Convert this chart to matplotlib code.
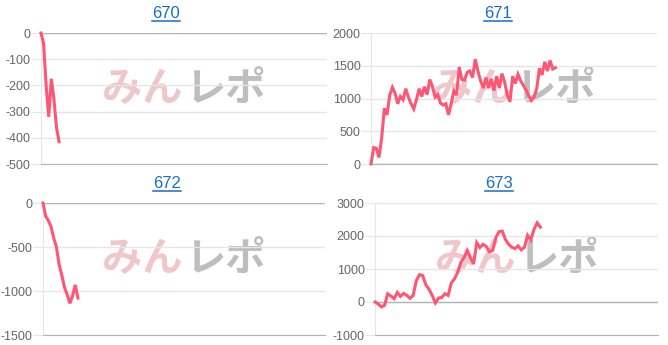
import numpy as np
import matplotlib.pyplot as plt

plt.rcParams['font.family'] = ['Liberation Sans', 'DejaVu Sans']
plt.rcParams['axes.unicode_minus'] = False

# data (difference in coins per data point)
titles = ['670', '671', '672', '673']

vals_670 = [0, -40, -200, -320, -175, -250, -360, -415]

vals_671 = [0, 250, 240, 100, 400, 850, 750, 1050, 1170, 1080, 920, 1030, 980,
            1150, 1020, 920, 840, 980, 1150, 1030, 1180, 1060, 1290, 1180, 1020,
            1060, 930, 900, 920, 750, 920, 1120, 1050, 1480, 1290, 1280, 1400,
            1420, 1320, 1600, 1420, 1270, 1160, 1320, 1160, 1300, 1120, 1340,
            1160, 1380, 1250, 1050, 950, 1340, 1230, 1370, 1270, 1200, 1130,
            1040, 970, 1020, 1150, 1460, 1360, 1560, 1420, 1580, 1450, 1470]

vals_672 = [0, -150, -200, -270, -400, -500, -700, -820, -960, -1040, -1140,
            -1060, -930, -1080]

vals_673 = [0, -60, -150, -100, 250, 180, 100, 290, 170, 260, 200, 110, 200,
            650, 830, 800, 520, 380, 200, -30, 120, 140, 250, 200, 580, 700,
            900, 1200, 1350, 1560, 1350, 1150, 1800, 1650, 1750, 1680, 1520,
            1560, 1950, 2130, 2150, 1900, 1750, 1660, 1620, 1700, 1580, 1660,
            2020, 1880, 2200, 2400, 2270]

series = [vals_670, vals_671, vals_672, vals_673]
y_ticks = [np.arange(-500, 1, 100), np.arange(0, 2001, 500),
           np.arange(-1500, 1, 500), np.arange(-1000, 3001, 1000)]

# layout (pixels in a 668x345 figure)
W, H = 668, 345
boxes = [(41, 327, 33, 164), (371, 657, 33, 164),
         (43, 325, 203, 335), (375, 658, 203, 335)]
title_pos = [(166, 14), (498, 14), (167, 184), (499, 184)]
x_max = [111, 107, 105, 89]

line_color = '#ff5674'
grid_color = '#e6e6e6'
zero_color = '#b4b4b4'
link_color = '#1a6cc8'

fig = plt.figure(figsize=(W / 100, H / 100), dpi=100)
title_texts = []

for i, vals in enumerate(series):
    l, r, t, b = boxes[i]
    ax = fig.add_axes([l / W, 1 - b / H, (r - l) / W, (b - t) / H])
    ticks = y_ticks[i]
    ax.set_ylim(ticks[0], ticks[-1])
    ax.set_xlim(0, x_max[i])
    ax.set_yticks(ticks)
    ax.set_xticks([])
    ax.yaxis.grid(True, color=grid_color, linewidth=1)
    ax.axhline(0, color=zero_color, linewidth=1, zorder=1)
    ax.tick_params(axis='y', length=7, color=grid_color, labelsize=9,
                   labelcolor='#666666', pad=0.5)
    for side in ['top', 'right']:
        ax.spines[side].set_visible(False)
    ax.spines['left'].set_color(grid_color)
    ax.spines['bottom'].set_color(zero_color)
    ax.set_axisbelow(True)

    # watermark
    ax.text(0.495, 0.57, 'みん', transform=ax.transAxes, ha='right', va='center',
            fontsize=29, fontweight='bold', color='#e39a9e', alpha=0.55,
            family=['Noto Sans CJK JP'], zorder=0)
    ax.text(0.505, 0.57, 'レポ', transform=ax.transAxes, ha='left', va='center',
            fontsize=29, fontweight='bold', color='#a8a8a8', alpha=0.75,
            family=['Noto Sans CJK JP'], zorder=0)

    ax.plot(np.arange(len(vals)), vals, color=line_color, linewidth=2.2,
            solid_joinstyle='miter', zorder=3, clip_on=False)

    tx, ty = title_pos[i]
    title_texts.append(fig.text(tx / W, 1 - ty / H, titles[i], ha='center',
                                va='center', fontsize=12, color=link_color))

# underline the link-style titles
fig.canvas.draw()
renderer = fig.canvas.get_renderer()
for txt in title_texts:
    bb = txt.get_window_extent(renderer).transformed(fig.transFigure.inverted())
    y = bb.y0 + 1.0 / H
    fig.add_artist(plt.Line2D([bb.x0, bb.x1], [y, y], color=link_color,
                              linewidth=1.1, transform=fig.transFigure))

fig.savefig('out.png', dpi=100)
